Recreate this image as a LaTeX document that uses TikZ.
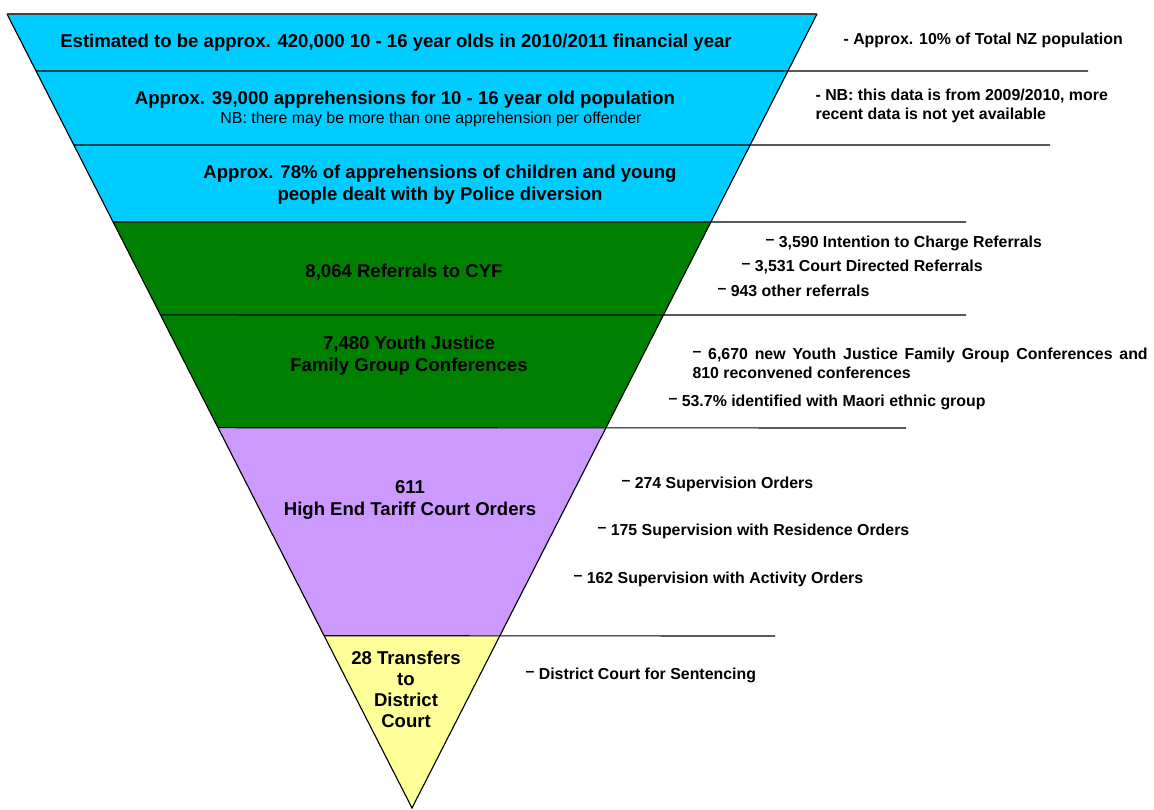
\documentclass[tikz,border=0pt]{standalone}
\usepackage{fontspec}
\setmainfont{Liberation Sans}
\usetikzlibrary{calc}
\definecolor{bandcyan}{HTML}{00CCFF}
\definecolor{bandgreen}{HTML}{008000}
\definecolor{bandlilac}{HTML}{CC99FF}
\definecolor{bandyellow}{HTML}{FFFF99}
\def\band[#1](#2:#3){\fill[#1] ($(tl)!#2!(tip)$) -- ($(tr)!#2!(tip)$) -- ($(tr)!#3!(tip)$) -- ($(tl)!#3!(tip)$) -- cycle;}
\def\dsh{\raisebox{.35ex}{\textendash}}
\tikzset{
	bigtxt/.style={font=\bfseries\fontsize{13.2}{15.6}\selectfont, align=center, inner sep=0pt},
	nbtxt/.style={font=\fontsize{11.3}{13}\selectfont, align=center, inner sep=0pt},
	sidetxt/.style={font=\bfseries\fontsize{11.3}{13.4}\selectfont, anchor=west, align=left, inner sep=0pt},
}

\begin{document}
\begin{tikzpicture}[x=0.025cm, y=-0.025cm, line width=0.8pt]
			%%%%% START %%%%%
			\useasboundingbox (0, 0) rectangle (1154, 809);
			
			\coordinate (tl) at (7, 14);
			\coordinate (tr) at (817, 14);
			\coordinate (tip) at (412, 808);
			
			\band[bandcyan](0:0.0718)
			\band[bandcyan](0.0718:0.165)
			\band[bandcyan](0.165:0.262)
			\band[bandgreen](0.262:0.379)
			\band[bandgreen](0.379:0.521)
			\band[bandlilac](0.521:0.783)
			\band[bandyellow](0.783:1)
			
			\draw (tl) -- (tip) -- (tr);
			\draw[line width=1.2pt, black!75] (tl) -- (tr);
			
			\draw ($(tl)!0.0718!(tip)$) -- (1088, 71);
			\draw ($(tl)!0.165!(tip)$) -- (1050, 145);
			\draw ($(tl)!0.262!(tip)$) -- (966, 222);
			\draw ($(tl)!0.379!(tip)$) -- (966, 315);
			\draw ($(tl)!0.521!(tip)$) -- (906, 428);
			\draw ($(tl)!0.783!(tip)$) -- (775, 636);
			
			\node[bigtxt] (est) at (396, 43) {Estimated to be approx. 420,000 10 - 16 year olds in 2010/2011 financial year};
			\node[bigtxt] (appr) at (405, 100) {Approx. 39,000 apprehensions for 10 - 16 year old population};
			\node[nbtxt] (apprnb) at (431, 119) {NB: there may be more than one apprehension per offender};
			\node[bigtxt] (divert) at (440, 185) {Approx. 78\% of apprehensions of children and young\\people dealt with by Police diversion};
			\node[bigtxt] (cyf) at (404, 272) {8,064 Referrals to CYF};
			\node[bigtxt] (fgc) at (409, 356) {7,480 Youth Justice\\Family Group Conferences};
			\node[bigtxt] (hetco) at (410, 500) {611\\High End Tariff Court Orders};
			\node[bigtxt, font=\bfseries\fontsize{13.2}{14.9}\selectfont] (dc) at (406, 689) {28 Transfers\\to\\District\\Court};
			
			\node[sidetxt] (pop) at (843, 40) {- Approx. 10\% of Total NZ population};
			\node[sidetxt] (nbdata) at (815, 106) {- NB: this data is from 2009/2010, more\\recent data is not yet available};
			\node[sidetxt] (itc) at (765, 243) {\dsh{} 3,590 Intention to Charge Referrals};
			\node[sidetxt] (cdr) at (741, 267) {\dsh{} 3,531 Court Directed Referrals};
			\node[sidetxt] (oth) at (717, 291) {\dsh{} 943 other referrals};
			\node[sidetxt] (newfgc) at (692, 363) {\makebox[11.375cm][s]{\dsh{} 6,670 new Youth Justice Family Group Conferences and}\\810 reconvened conferences};
			\node[sidetxt] (maori) at (668, 402) {\dsh{} 53.7\% identified with Maori ethnic group};
			\node[sidetxt] (sup) at (621, 484) {\dsh{} 274 Supervision Orders};
			\node[sidetxt] (supres) at (597, 531) {\dsh{} 175 Supervision with Residence Orders};
			\node[sidetxt] (supact) at (573, 579) {\dsh{} 162 Supervision with Activity Orders};
			\node[sidetxt] (sent) at (525, 675) {\dsh{} District Court for Sentencing};
			
			%%%%% END %%%%%
\end{tikzpicture}
\end{document}
